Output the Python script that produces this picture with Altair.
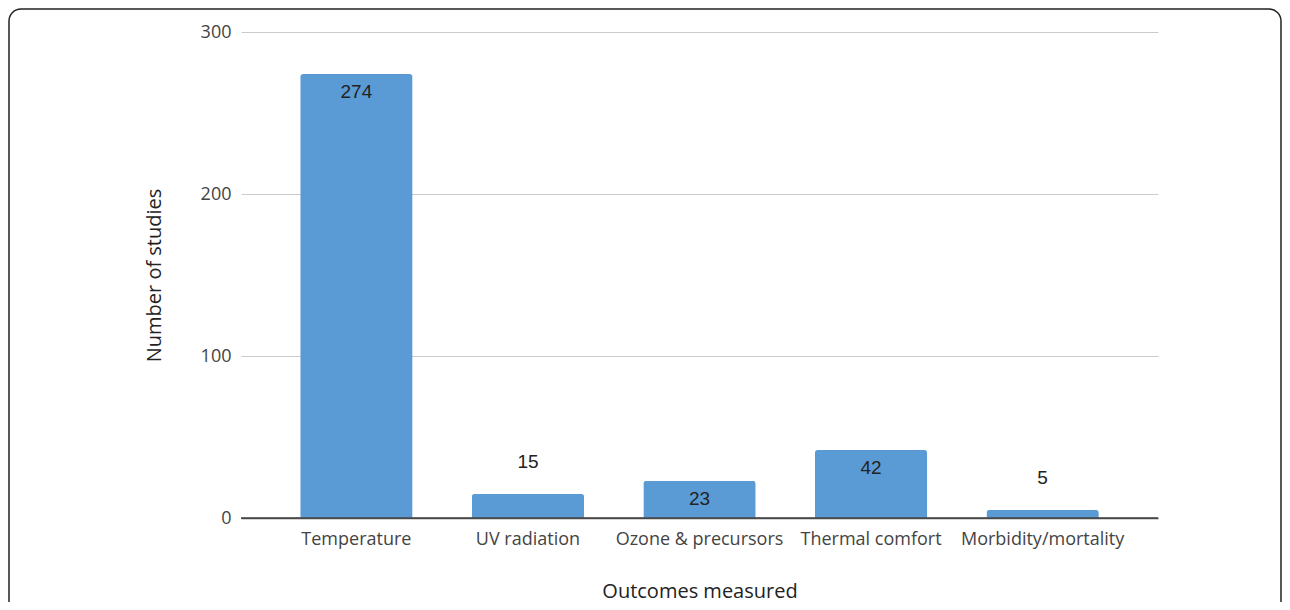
import altair as alt
import pandas as pd

categories = ["Temperature", "UV radiation", "Ozone & precursors", "Thermal comfort", "Morbidity/mortality"]
values = [274, 15, 23, 42, 5]
y_ticks = [0, 100, 200, 300]

df = pd.DataFrame({"outcome": categories, "studies": values})

BAR = "#5B9BD5"
AX_FONT = "Open Sans"

x_enc = alt.X(
    "outcome:N",
    sort=categories,
    scale=alt.Scale(paddingInner=0.345, paddingOuter=0.345),
    axis=alt.Axis(
        title="Outcomes measured",
        labelAngle=0,
        labelFont=AX_FONT,
        labelFontSize=18,
        labelColor="#444444",
        labelPadding=12,
        ticks=False,
        grid=False,
        domainColor="#555555",
        domainWidth=1.5,
        titleFont=AX_FONT,
        titleFontSize=20,
        titleFontWeight="normal",
        titleColor="#222222",
        titlePadding=33,
    ),
)
y_axis = alt.Axis(
    title="Number of studies",
    values=y_ticks,
    labelFont=AX_FONT,
    labelFontSize=18,
    labelColor="#444444",
    labelPadding=10,
    ticks=False,
    domain=False,
    gridColor="#CCCCCC",
    gridWidth=1,
    titleFont=AX_FONT,
    titleFontSize=20,
    titleFontWeight="normal",
    titleColor="#222222",
    titlePadding=36,
)
y_enc = alt.Y("studies:Q", scale=alt.Scale(domain=[0, 300]), axis=y_axis)

base = alt.Chart(df).encode(x=x_enc, y=y_enc)

bars = base.mark_bar(color=BAR, cornerRadiusTopLeft=3, cornerRadiusTopRight=3)

zero_line = alt.Chart(pd.DataFrame({"z": [0]})).mark_rule(color="#444444", strokeWidth=1.5).encode(
    y=alt.Y("z:Q", scale=alt.Scale(domain=[0, 300]), axis=y_axis),
)

inside = base.transform_filter(alt.datum.studies >= 20).mark_text(
    font="Liberation Sans", fontSize=19, color="#222222", baseline="middle", dy=18
).encode(text="studies:Q")

outside = base.transform_filter(alt.datum.studies < 20).mark_text(
    font="Liberation Sans", fontSize=19, color="#222222", baseline="middle", dy=-32
).encode(text="studies:Q")

frame = alt.Chart(pd.DataFrame({"f": [0]})).mark_rect(
    fillOpacity=0, stroke="#222222", strokeWidth=1.5, cornerRadius=12
).encode(
    x=alt.value(-232),
    x2=alt.value(1040),
    y=alt.value(-23),
    y2=alt.value(700),
)

chart = (
    alt.layer(bars, zero_line, inside, outside, frame)
    .properties(
        width=917,
        height=486,
        background="white",
        autosize=alt.AutoSizeParams(type="none"),
        padding={"left": 233, "top": 24, "right": 124, "bottom": 84},
    )
    .configure_view(stroke=None, strokeWidth=0)
)

chart.save("out.html", embed_options={"renderer": "svg", "actions": False})
